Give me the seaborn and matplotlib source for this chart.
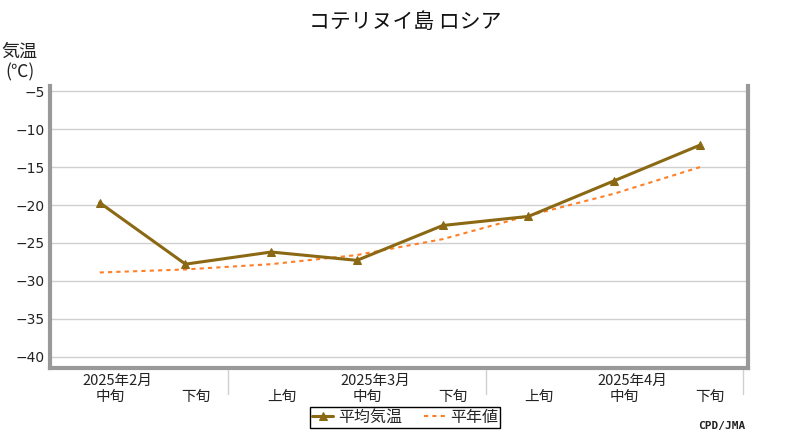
import matplotlib
matplotlib.use("Agg")
import matplotlib.pyplot as plt
import matplotlib.transforms as mtransforms
import seaborn as sns
import pandas as pd

# ---- data ----
period_labels = ['中旬', '下旬', '上旬', '中旬', '下旬', '上旬', '中旬', '下旬']
month_labels = ['2025年2月', '2025年3月', '2025年4月']
month_pos = [0, 3, 6]
avg_temp = [-19.7, -27.8, -26.2, -27.3, -22.7, -21.5, -16.8, -12.1]
normal_temp = [-28.9, -28.5, -27.8, -26.6, -24.5, -21.4, -18.5, -15.0]
yticks = [-5, -10, -15, -20, -25, -30, -35, -40]
separators = [1.5, 4.5, 7.5]

sns.set_theme(style="white")
plt.rcParams['font.family'] = ['Noto Sans CJK JP', 'DejaVu Sans']

df = pd.DataFrame({'idx': list(range(len(avg_temp))),
                   'avg': avg_temp, 'normal': normal_temp})

fig = plt.figure(figsize=(8, 4.4), dpi=100)
ax = fig.add_axes([50/800, 1-368/440, 698/800, (368-86)/440])

brown = '#8B6914'
orange = '#FF7F27'

sns.lineplot(data=df, x='idx', y='normal', ax=ax, color=orange, lw=1.5,
             linestyle=(0, (2, 2)), label='平年値', zorder=3)
sns.lineplot(data=df, x='idx', y='avg', ax=ax, color=brown, lw=2.2,
             marker='^', markersize=6, markeredgecolor=brown, label='平均気温', zorder=4)

ax.set_xlim(-0.58, 7.56)
ax.set_ylim(-41.5, -4.3)
ax.set_yticks(yticks)
ax.set_yticklabels([f'−{abs(v)}' for v in yticks], fontsize=10, family=['DejaVu Sans'])
ax.tick_params(axis='y', length=0, pad=4, colors='#222222')
ax.set_xticks([])
ax.set_xlabel('')
ax.set_ylabel('')
for v in yticks:
    ax.axhline(v, color='#d0d0d0', lw=1, zorder=1)

for s in ['left', 'bottom', 'right']:
    ax.spines[s].set_visible(True)
    ax.spines[s].set_color('#999999')
    ax.spines[s].set_linewidth(3)
ax.spines['top'].set_visible(False)

trans = mtransforms.blended_transform_factory(ax.transData, fig.transFigure)
for i, lab in enumerate(period_labels):
    ax.text(i + 0.12, 1 - 397/440, lab, transform=trans, ha='center', va='center',
            fontsize=10.5, color='#222222')
for p, lab in zip(month_pos, month_labels):
    ax.text(p + 0.21, 1 - 381/440, lab, transform=trans, ha='center', va='center',
            fontsize=10.5, color='#222222')
for s in separators:
    ax.plot([s, s], [1 - 370/440, 1 - 394/440], transform=trans, color='#d0d0d0',
            lw=1, clip_on=False)

handles, labels = ax.get_legend_handles_labels()
order = [labels.index('平均気温'), labels.index('平年値')]
leg = ax.legend([handles[i] for i in order], [labels[i] for i in order],
                loc='center', bbox_to_anchor=(405/800, 1 - 417.5/440),
                bbox_transform=fig.transFigure, ncol=2, frameon=True,
                fancybox=False, edgecolor='black', framealpha=1, fontsize=11.5,
                handlelength=1.3, columnspacing=1.4, borderpad=0.15,
                handletextpad=0.3, borderaxespad=0)
leg.get_frame().set_linewidth(1)

fig.text(405/800, 1 - 22/440, 'コテリヌイ島 ロシア', ha='center', va='center',
         fontsize=15, color='#111111')
fig.text(19/800, 1 - 52/440, '気温', ha='center', va='center', fontsize=13, color='#222222')
fig.text(20/800, 1 - 72/440, '(℃)', ha='center', va='center', fontsize=12.5, color='#222222')
fig.text(722/800, 1 - 426/440, 'CPD/JMA', ha='center', va='center', fontsize=8,
         fontweight='bold', family=['DejaVu Sans Mono'], color='#222222')

fig.savefig('out.png', dpi=100)
